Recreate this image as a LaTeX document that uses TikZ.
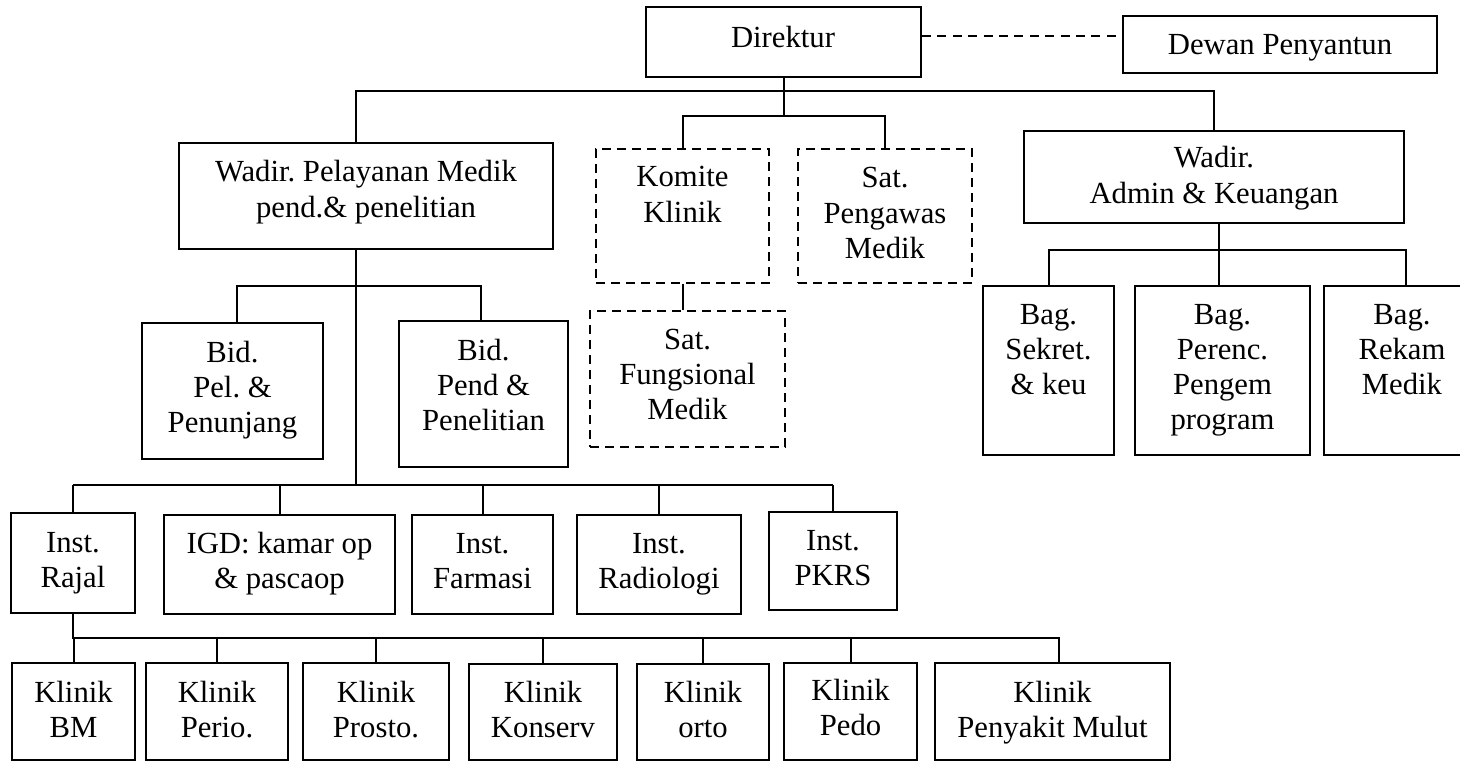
\documentclass[tikz,border=0pt]{standalone}
\usepackage{fontspec}
\setmainfont{Liberation Serif}
\frenchspacing
\usetikzlibrary{fit}
\begin{document}
\begin{tikzpicture}[x=1pt,y=-1pt,
  box/.style={draw, line width=2pt, inner sep=0pt},
  dbox/.style={box, dash pattern=on 9pt off 6pt},
  txt/.style={align=center, inner sep=0pt, anchor=base,
              font=\fontsize{30.7}{35.3}\selectfont\frenchspacing},
  link/.style={line width=2pt},
  dlink/.style={link, dash pattern=on 9pt off 6.4pt}]
\useasboundingbox (0,0) rectangle (1460,762);
\clip (0,0) rectangle (1460,762);

% levels of the horizontal bars
\coordinate (b1) at (0,91);
\coordinate (b2) at (0,116);
\coordinate (b3) at (0,250);
\coordinate (b4) at (0,286);
\coordinate (b5) at (0,485);
\coordinate (b6) at (0,638);
\coordinate (dl) at (0,35.7);
\coordinate (spine) at (356,0);

% text positions are given at the baseline of the last line

% top level
\node[box, fit={(646,7) (921,77)}] (dir) {};
\node[txt] (dir-t) at (783,48) {Direktur};
\node[box, fit={(1123,16) (1437,73)}] (dewan) {};
\node[txt] (dewan-t) at (1280,55) {Dewan Penyantun};

% second level
\node[box, fit={(179,143) (553,249)}] (wpel) {};
\node[txt] (wpel-t) at (366,217.3) {Wadir. Pelayanan Medik\\pend.\& penelitian};
\node[dbox, fit={(596,149) (769,283)}] (kom) {};
\node[txt] (kom-t) at (682.5,222.3) {Komite\\Klinik};
\node[dbox, fit={(798,149) (972,283)}] (peng) {};
\node[txt] (peng-t) at (885,258.6) {Sat.\\Pengawas\\Medik};
\node[dbox, fit={(590,311) (785,447)}] (fung) {};
\node[txt] (fung-t) at (687.5,419.6) {Sat.\\Fungsional\\Medik};
\node[box, fit={(1024,131) (1404,223)}] (wadm) {};
\node[txt] (wadm-t) at (1214,203.3) {Wadir.\\Admin \& Keuangan};

% sections under the administrative deputy
\node[box, fit={(983,286) (1114,455)}] (bags) {};
\node[txt] (bags-t) at (1048.5,394.6) {Bag.\\Sekret.\\\& keu};
\node[box, fit={(1135,286) (1310,455)}] (bagp) {};
\node[txt] (bagp-t) at (1222.5,429.9) {Bag.\\Perenc.\\Pengem\\program};
\node[box, fit={(1324,286) (1481,455)}] (bagr) {};
\node[txt] (bagr-t) at (1402,394.6) {Bag.\\Rekam\\Medik};

% fields under the medical deputy
\node[box, fit={(142,323) (323,459)}] (bidpel) {};
\node[txt] (bidpel-t) at (232.5,432.6) {Bid.\\Pel. \&\\Penunjang};
\node[box, fit={(399,321) (568,467)}] (bidpend) {};
\node[txt] (bidpend-t) at (483.5,430.6) {Bid.\\Pend \&\\Penelitian};

% installations
\node[box, fit={(11,513) (135,613)}] (rajal) {};
\node[txt] (rajal-t) at (73,587.3) {Inst.\\Rajal};
\node[box, fit={(164,515) (395,614)}] (igd) {};
\node[txt] (igd-t) at (279.5,588.3) {IGD: kamar op\\\& pascaop};
\node[box, fit={(412,515) (553,614)}] (farm) {};
\node[txt] (farm-t) at (482.5,588.3) {Inst.\\Farmasi};
\node[box, fit={(577,515) (741,614)}] (radio) {};
\node[txt] (radio-t) at (659,588.3) {Inst.\\Radiologi};
\node[box, fit={(769,512) (897,610)}] (pkrs) {};
\node[txt] (pkrs-t) at (833,585.3) {Inst.\\PKRS};

% clinics
\node[box, fit={(12,663) (135,760)}] (kbm) {};
\node[txt] (kbm-t) at (73.5,737.3) {Klinik\\BM};
\node[box, fit={(146,663) (288,760)}] (kperio) {};
\node[txt] (kperio-t) at (217,737.3) {Klinik\\Perio.};
\node[box, fit={(303,663) (449,760)}] (kpros) {};
\node[txt] (kpros-t) at (376,737.8) {Klinik\\Prosto.};
\node[box, fit={(469,664) (617,760)}] (kkons) {};
\node[txt] (kkons-t) at (543,737.3) {Klinik\\Konserv};
\node[box, fit={(637,664) (769,760)}] (korto) {};
\node[txt] (korto-t) at (703,737.3) {Klinik\\orto};
\node[box, fit={(784,663) (917,760)}] (kpedo) {};
\node[txt] (kpedo-t) at (850.5,735.3) {Klinik\\Pedo};
\node[box, fit={(935,663) (1170,760)}] (kpm) {};
\node[txt] (kpm-t) at (1052.5,737.3) {Klinik\\Penyakit Mulut};

% director links
\draw[dlink] (dir.east |- dl) -- (dewan.west |- dl);
\draw[link] (dir.south) -- (dir.south |- b2);
\draw[link] (spine |- wpel.north) -- (spine |- b1) -- (wadm.north |- b1) -- (wadm.north);
\draw[link] (kom.north) -- (kom.north |- b2) -- (peng.north |- b2) -- (peng.north);
\draw[link] (kom.south) -- (kom.south |- fung.north);

% administrative deputy links
\draw[link] ([xshift=-3.5pt]bagp.north |- wadm.south) -- ([xshift=-3.5pt]bagp.north);
\draw[link] (bags.north) -- (bags.north |- b3) -- ([xshift=3.5pt]bagr.north |- b3) -- ([xshift=3.5pt]bagr.north);

% medical deputy links
\draw[link] (spine |- wpel.south) -- (spine |- b5);
\draw[link] ([xshift=4.5pt]bidpel.north) -- ([xshift=4.5pt]bidpel.north |- b4)
  -- ([xshift=-2.5pt]bidpend.north |- b4) -- ([xshift=-2.5pt]bidpend.north);
\draw[link] (rajal.north |- b5) -- (pkrs.north |- b5);
\foreach \n in {rajal,igd,farm,radio,pkrs}
  \draw[link] (\n.north |- b5) -- (\n.north);

% clinic links
\draw[link] (rajal.south) -- (rajal.south |- b6) -- ([xshift=6.5pt]kpm.north |- b6) -- ([xshift=6.5pt]kpm.north);
\foreach \n in {kbm,kperio,kpros,kkons,korto,kpedo}
  \draw[link] (\n.north |- b6) -- (\n.north);
\end{tikzpicture}
\end{document}
